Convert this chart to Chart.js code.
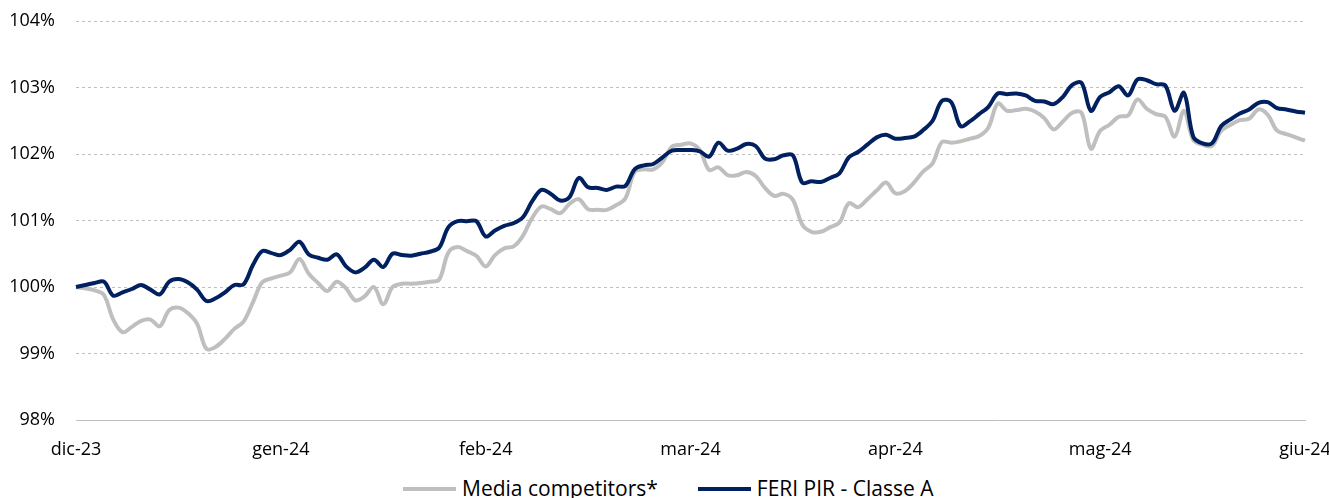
<!DOCTYPE html>
<html>
<head>
<meta charset="utf-8">
<script src="https://cdn.jsdelivr.net/npm/chart.js@4.4.1/dist/chart.umd.min.js"></script>
<style>
  html, body { margin: 0; padding: 0; background: #fff; overflow: hidden; }
  #wrap { position: relative; width: 1329px; height: 498px; }
  #chart { position: absolute; left: 0; top: 0; }
  .legend { position: absolute; top: 477px; left: 403px; display: flex; align-items: center;
            font-family: "Open Sans", sans-serif; font-size: 21px; line-height: 23px; color: #000; white-space: nowrap; }
  .item { display: flex; align-items: center; margin-right: 40px; }
  .swatch { width: 53px; height: 4px; margin-right: 6px; }
</style>
</head>
<body>
<div id="wrap">
  <canvas id="chart" width="1329" height="470"></canvas>
  <div class="legend">
    <div class="item"><span class="swatch" style="background:#bfbfbf"></span>Media competitors*</div>
    <div class="item"><span class="swatch" style="background:#002060"></span>FERI PIR - Classe A</div>
  </div>
</div>
<script>
// === DATA ===
const tickLabels = ["dic-23", "gen-24", "feb-24", "mar-24", "apr-24", "mag-24", "giu-24"];
const tickStep = 22;

const competitors = [
  100.00, 99.98, 99.95, 99.88, 99.51, 99.32, 99.40, 99.49, 99.51, 99.41,
  99.65, 99.69, 99.61, 99.45, 99.07, 99.10, 99.22, 99.37, 99.48, 99.77,
  100.07, 100.13, 100.17, 100.22, 100.42, 100.20, 100.06, 99.94, 100.08, 99.98,
  99.80, 99.86, 100.00, 99.74, 100.00, 100.05, 100.05, 100.06, 100.08, 100.11,
  100.52, 100.60, 100.54, 100.47, 100.31, 100.48, 100.58, 100.61, 100.77, 101.04,
  101.21, 101.17, 101.11, 101.25, 101.32, 101.17, 101.16, 101.16, 101.23, 101.33,
  101.73, 101.77, 101.77, 101.88, 102.11, 102.14, 102.16, 102.06, 101.76, 101.80,
  101.68, 101.68, 101.73, 101.67, 101.49, 101.37, 101.40, 101.31, 100.94, 100.83,
  100.83, 100.90, 100.97, 101.26, 101.20, 101.32, 101.45, 101.57, 101.41, 101.44,
  101.57, 101.74, 101.86, 102.18, 102.17, 102.19, 102.23, 102.27, 102.40, 102.76,
  102.65, 102.66, 102.68, 102.64, 102.54, 102.37, 102.49, 102.62, 102.62, 102.08,
  102.35, 102.44, 102.56, 102.58, 102.82, 102.68, 102.60, 102.56, 102.26, 102.65,
  102.21, 102.14, 102.12, 102.35, 102.44, 102.51, 102.53, 102.67, 102.59, 102.35,
  102.30, 102.25, 102.20
];

const feriPir = [
  100.00, 100.03, 100.06, 100.08, 99.87, 99.92, 99.97, 100.03, 99.96, 99.89,
  100.08, 100.12, 100.07, 99.96, 99.79, 99.83, 99.92, 100.03, 100.04, 100.33,
  100.54, 100.51, 100.48, 100.56, 100.68, 100.49, 100.44, 100.41, 100.49, 100.31,
  100.22, 100.29, 100.41, 100.30, 100.50, 100.48, 100.47, 100.50, 100.53, 100.59,
  100.90, 100.99, 100.99, 100.99, 100.76, 100.85, 100.92, 100.96, 101.05, 101.29,
  101.46, 101.40, 101.30, 101.35, 101.64, 101.50, 101.49, 101.46, 101.51, 101.52,
  101.77, 101.83, 101.85, 101.95, 102.05, 102.06, 102.06, 102.04, 101.96, 102.17,
  102.05, 102.08, 102.15, 102.12, 101.93, 101.92, 101.98, 101.98, 101.57, 101.59,
  101.58, 101.64, 101.71, 101.95, 102.03, 102.14, 102.25, 102.29, 102.23, 102.24,
  102.26, 102.36, 102.50, 102.80, 102.78, 102.42, 102.49, 102.60, 102.71, 102.91,
  102.90, 102.91, 102.88, 102.80, 102.79, 102.75, 102.86, 103.04, 103.07, 102.65,
  102.86, 102.93, 103.02, 102.88, 103.12, 103.11, 103.05, 103.03, 102.65, 102.92,
  102.26, 102.16, 102.16, 102.42, 102.52, 102.61, 102.67, 102.77, 102.78, 102.69,
  102.67, 102.64, 102.62
];

// one category per day, a month label every tickStep days
const categories = competitors.map((_, i) => i % tickStep === 0 ? tickLabels[i / tickStep] : "");

const font = { family: "'Open Sans', sans-serif", size: 18 };

// === CHART ===
const ctx = document.getElementById("chart").getContext("2d");
new Chart(ctx, {
  type: "line",
  data: {
    labels: categories,
    datasets: [
      {
        label: "Media competitors*",
        data: competitors,
        borderColor: "#bfbfbf",
        backgroundColor: "#bfbfbf",
        borderWidth: 4,
        pointRadius: 0,
        tension: 0.35,
        order: 1
      },
      {
        label: "FERI PIR - Classe A",
        data: feriPir,
        borderColor: "#002060",
        backgroundColor: "#002060",
        borderWidth: 4,
        pointRadius: 0,
        tension: 0.35,
        order: 0
      }
    ]
  },
  options: {
    responsive: false,
    animation: false,
    devicePixelRatio: 1,
    layout: { padding: { left: 8, top: 0, right: 0, bottom: 0 } },
    plugins: {
      legend: { display: false },
      tooltip: { enabled: false }
    },
    scales: {
      x: {
        offset: false,
        grid: { display: false, drawTicks: false },
        border: { display: true, color: "#bfbfbf", width: 1 },
        ticks: {
          autoSkip: false,
          maxRotation: 0,
          padding: 19,
          color: "#000",
          font: font,
          callback: function (val) { return this.getLabelForValue(val); }
        },
        afterFit: s => { s.paddingLeft = 0; s.paddingRight = 24; s.height = 50; }
      },
      y: {
        min: 98,
        max: 104,
        grid: { color: "#bfbfbf", lineWidth: 1, drawTicks: false },
        border: { display: false, dash: [3, 3] },
        ticks: {
          stepSize: 1,
          padding: 21,
          color: "#000",
          font: font,
          callback: v => v + "%"
        },
        afterFit: s => { s.width = 68; s.paddingTop = 21; s.paddingBottom = 0; }
      }
    }
  }
});
</script>
</body>
</html>
